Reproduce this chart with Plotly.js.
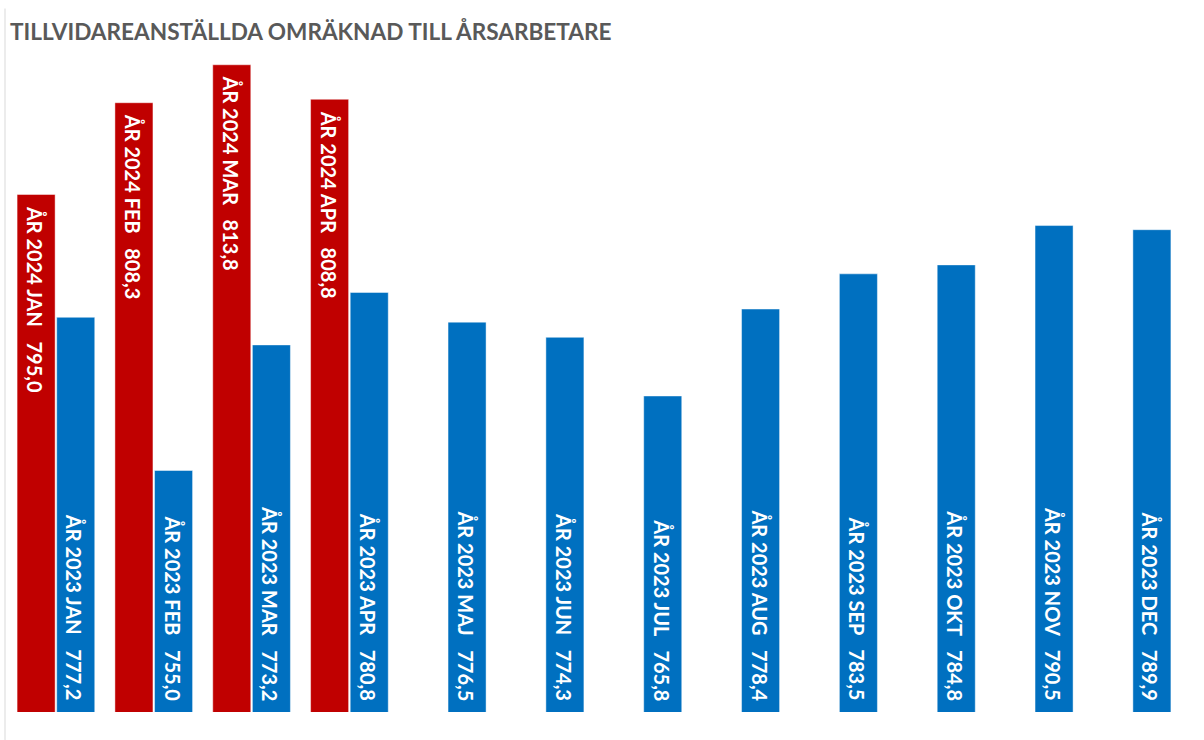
<!DOCTYPE html>
<html>
<head>
<meta charset="utf-8">
<script src="https://cdn.plot.ly/plotly-3.0.1.min.js"></script>
<style>html,body{margin:0;padding:0;background:#fff;}#chart{width:1204px;height:740px;}</style>
</head>
<body>
<div id="chart"></div>
<script>
const months = ["JAN","FEB","MAR","APR","MAJ","JUN","JUL","AUG","SEP","OKT","NOV","DEC"];
const year2024 = "2024";
const year2023 = "2023";
const values2024 = [795.0, 808.3, 813.8, 808.8];
const values2023 = [777.2, 755.0, 773.2, 780.8, 776.5, 774.3, 765.8, 778.4, 783.5, 784.8, 790.5, 789.9];
const titleText = "TILLVIDAREANSTÄLLDA OMRÄKNAD TILL ÅRSARBETARE";

const fmt = v => v.toFixed(1).replace(".", ",");
const gap = "\u00a0\u00a0\u00a0";
const label = (yr, m, v) => "ÅR " + yr + " " + m + gap + fmt(v);

const BARGAP = 0.19;
const BARGROUPGAP = 0.04;
const YMIN = 720, YMAX = 820;
const slot = (1 - BARGAP) / 2;

const labelFont = {family: "Lato, 'Open Sans', sans-serif", size: 20, color: "#ffffff", weight: 700};

const traces = [
  {
    type: "bar",
    name: year2024,
    x: months.slice(0, values2024.length),
    y: values2024,
    marker: {color: "#C00000", line: {color: "rgba(255,255,255,0.45)", width: 1}},
    hoverinfo: "skip"
  },
  {
    type: "bar",
    name: year2023,
    x: months,
    y: values2023,
    marker: {color: "#0070C0", line: {color: "rgba(255,255,255,0.45)", width: 1}},
    hoverinfo: "skip"
  }
];

const annotations = [];
values2024.forEach((v, i) => {
  annotations.push({
    xref: "x", yref: "y", x: i - slot / 2, y: v,
    text: label(year2024, months[i], v), showarrow: false,
    textangle: 90, xanchor: "center", yanchor: "top", yshift: -9, xshift: -1,
    font: labelFont
  });
});
values2023.forEach((v, i) => {
  annotations.push({
    xref: "x", yref: "y", x: i + slot / 2, y: YMIN,
    text: label(year2023, months[i], v), showarrow: false,
    textangle: 90, xanchor: "center", yanchor: "bottom", yshift: 9, xshift: -1,
    font: labelFont
  });
});

const layout = {
  width: 1204,
  height: 740,
  margin: {l: 7, r: 23, t: 21.5, b: 28, pad: 0},
  paper_bgcolor: "#ffffff",
  plot_bgcolor: "#ffffff",
  showlegend: false,
  barmode: "group",
  bargap: BARGAP,
  bargroupgap: BARGROUPGAP,
  title: {
    text: titleText,
    font: {family: "Lato, 'Open Sans', sans-serif", size: 22.6, color: "#595959", weight: 700},
    xref: "container", x: 10 / 1204, xanchor: "left",
    yref: "container", y: 1 - 32 / 740, yanchor: "middle"
  },
  xaxis: {
    type: "category",
    categoryorder: "array",
    categoryarray: months,
    range: [-0.5, 11.5],
    showticklabels: false,
    showgrid: false,
    zeroline: false,
    showline: false,
    ticks: ""
  },
  yaxis: {
    range: [YMIN, YMAX],
    showticklabels: false,
    showgrid: false,
    zeroline: false,
    showline: false,
    ticks: ""
  },
  annotations: annotations,
  shapes: [
    {type: "line", xref: "paper", yref: "paper", x0: -2 / 1174, x1: -2 / 1174, y0: 1 + 13.5 / 690.5, y1: -28 / 690.5,
     line: {color: "#d9d9d9", width: 1}}
  ]
};

Plotly.newPlot("chart", traces, layout, {displayModeBar: false, staticPlot: true});
</script>
</body>
</html>
